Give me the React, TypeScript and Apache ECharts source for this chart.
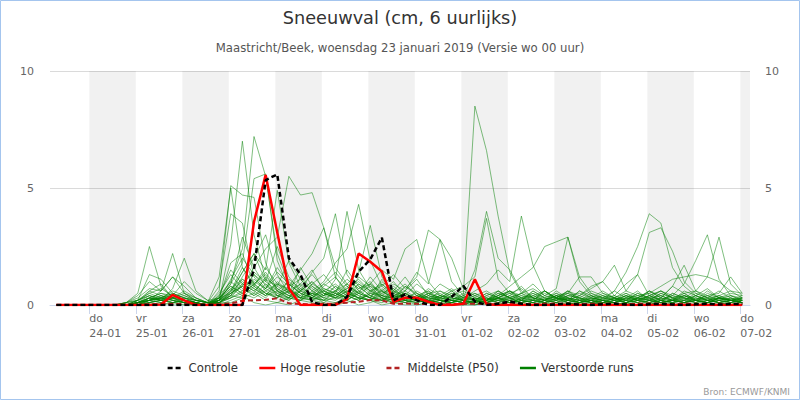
import React, { useEffect, useRef } from "react";
import * as echarts from "echarts";

// Local time (CET) hours since Wed 23-01-2019 00:00, one point every 6 hours
const hours = [
  7, 13, 19, 25, 31, 37, 43, 49, 55, 61, 67, 73,
  79, 85, 91, 97, 103, 109, 115, 121, 127, 133, 139, 145,
  151, 157, 163, 169, 175, 181, 187, 193, 199, 205, 211, 217,
  223, 229, 235, 241, 247, 253, 259, 265, 271, 277, 283, 289,
  295, 301, 307, 313, 319, 325, 331, 337, 343, 349, 355, 361,
];

const tickHours = [24, 48, 72, 96, 120, 144, 168, 192, 216, 240, 264, 288, 312, 336, 360];
const tickDays = ["do", "vr", "za", "zo", "ma", "di", "wo", "do", "vr", "za", "zo", "ma", "di", "wo", "do"];
const tickDates = ["24-01", "25-01", "26-01", "27-01", "28-01", "29-01", "30-01", "31-01", "01-02", "02-02", "03-02", "04-02", "05-02", "06-02", "07-02"];

const bandStart = [24, 72, 120, 168, 216, 264, 312, 360];
const bandEnd = [48, 96, 144, 192, 240, 288, 336, 365];

const controle = [
  0, 0, 0, 0, 0, 0, 0, 0, 0, 0, 0, 0,
  0, 0, 0, 0, 0, 1.53, 5.34, 5.58, 2.0, 1.3, 0.12, 0,
  0, 0.35, 1.42, 1.95, 2.88, 0.2, 0.45, 0.2, 0, 0, 0.35, 0.82,
  0.15, 0, 0.05, 0.15, 0.05, 0, 0, 0.03, 0.05, 0.02, 0, 0.03,
  0.05, 0.02, 0, 0.03, 0.05, 0.02, 0, 0.03, 0.05, 0.02, 0.04, 0.05,
];

const hogeResolutie = [
  0, 0, 0, 0, 0, 0, 0, 0, 0, 0.02, 0.43, 0.2,
  0, 0, 0, 0, 0, 3.56, 5.56, 3.1, 0.71, 0, 0, 0,
  0, 0.25, 2.2, 1.85, 1.43, 0.14, 0.31, 0.31, 0.14, 0, 0, 0.05,
  1.1, 0.03, 0, 0, 0, 0, 0, 0, 0, 0, 0, 0,
  0, 0, 0, 0, 0, 0, 0, 0, 0, 0, 0, 0,
];

const middelste = [
  0, 0, 0, 0, 0, 0, 0, 0, 0.03, 0.04, 0.05, 0.04,
  0.02, 0.01, 0.02, 0.07, 0.18, 0.2, 0.22, 0.29, 0.07, 0.04, 0.03, 0.05,
  0.06, 0.1, 0.14, 0.21, 0.2, 0.05, 0.06, 0.05, 0.04, 0.05, 0.04, 0.05,
  0.05, 0.06, 0.05, 0.04, 0.05, 0.04, 0.05, 0.06, 0.05, 0.04, 0.05, 0.05,
  0.05, 0.04, 0.05, 0.06, 0.05, 0.04, 0.05, 0.05, 0.04, 0.05, 0.04, 0.05,
];

const run01 = [
  0, 0, 0, 0, 0, 0, 0.1, 0.5, 2.5, 0.8, 0.3, 0.2,
  0.1, 0, 0.2, 2.6, 7.0, 3.0, 1.1, 0.4, 0.2, 0.6, 1.0, 0.5,
  0.3, 0.8, 0.4, 0.2, 0.1, 0.3, 0.5, 0.2, 0.1, 0, 0.2, 0.1,
  0.1, 0.3, 0.2, 0.1, 0, 0, 0.2, 0.4, 0.1, 0, 0.1, 0.2,
  0.3, 0.1, 0, 0.2, 0.4, 0.2, 0.1, 0, 0.1, 0.3, 0.2, 0.1,
];
const run02 = [
  0, 0, 0, 0, 0, 0, 0, 0.2, 0.4, 0.3, 0.6, 0.4,
  0.2, 0.1, 0.3, 1.0, 2.4, 7.2, 5.5, 2.2, 0.9, 0.5, 0.3, 0.8,
  1.2, 0.6, 0.3, 0.9, 0.4, 0.2, 0.1, 0.3, 0.6, 0.2, 0.1, 0,
  0, 0.2, 0.5, 0.3, 0.1, 0.2, 0.6, 0.3, 0.1, 0, 0, 0.2,
  0.1, 0.4, 0.2, 0.1, 0, 0.3, 0.5, 0.2, 0.1, 0, 0.2, 0.3,
];
const run03 = [
  0, 0, 0, 0, 0, 0, 0, 0.1, 0.3, 0.5, 0.4, 0.2,
  0.1, 0, 0.6, 5.1, 4.7, 4.6, 1.8, 0.6, 0.3, 0.2, 0.5, 0.9,
  0.6, 0.3, 1.2, 0.8, 0.3, 0.1, 0.2, 0.4, 0.2, 0.1, 0, 0,
  0.2, 0.1, 0.3, 0.6, 0.2, 0.1, 0, 0.3, 0.2, 0.1, 0.4, 0.2,
  0.1, 0, 0.2, 0.3, 0.1, 0.2, 0.6, 0.4, 0.2, 0.1, 0, 0.2,
];
const run04 = [
  0, 0, 0, 0, 0, 0, 0, 0, 0.2, 0.6, 1.2, 0.5,
  0.2, 0.1, 1.2, 5.0, 1.6, 0.8, 0.4, 1.0, 0.6, 0.3, 0.2, 0.1,
  0.4, 0.9, 0.5, 0.3, 1.1, 0.6, 0.2, 0.1, 0.3, 0.5, 0.2, 0.1,
  0, 0.1, 0.2, 0.4, 0.8, 0.3, 0.1, 0.2, 0.5, 0.3, 0.1, 0,
  0.2, 0.5, 0.3, 0.1, 0.2, 0.4, 0.2, 0.1, 0.3, 0.6, 0.3, 0.1,
];
const run05 = [
  0, 0, 0, 0, 0, 0, 0, 0.1, 0.2, 0.3, 0.2, 0.1,
  0.1, 0, 0.2, 0.9, 1.8, 5.4, 5.6, 1.9, 0.7, 0.3, 0.2, 0.4,
  0.8, 0.5, 0.3, 0.2, 0.6, 1.0, 0.4, 0.2, 0.1, 0.3, 0.2, 0.1,
  0.1, 0.4, 0.2, 0.1, 0.3, 0.2, 0.1, 0, 0.2, 0.6, 0.3, 0.1,
  0, 0.1, 0.3, 0.5, 0.2, 0.1, 0.2, 0.4, 0.7, 0.3, 0.1, 0.2,
];
const run06 = [
  0, 0, 0, 0, 0, 0, 0.1, 0.2, 0.6, 0.4, 0.3, 0.2,
  0.1, 0, 0.1, 0.6, 1.4, 2.2, 1.5, 4.9, 1.8, 0.8, 0.4, 0.2,
  0.1, 0.3, 0.8, 0.4, 0.2, 0.5, 0.9, 0.4, 0.2, 0.1, 0.3, 0.2,
  0.1, 0.2, 0.6, 0.3, 0.2, 0.1, 0.3, 0.5, 0.2, 0.1, 0, 0.1,
  0.3, 0.2, 0.1, 0.4, 0.6, 0.3, 0.1, 0.2, 0.1, 0.3, 0.4, 0.2,
];
const run07 = [
  0, 0, 0, 0, 0, 0, 0, 0.1, 0.3, 0.2, 0.5, 0.3,
  0.1, 0, 0.3, 0.5, 0.8, 1.6, 2.4, 2.9, 5.5, 4.7, 4.8, 3.3,
  1.2, 0.5, 0.3, 0.2, 0.4, 0.3, 0.1, 0.2, 0.5, 0.2, 0.1, 0,
  0.2, 0.1, 0.3, 0.2, 0.1, 0.4, 0.2, 0.1, 0.3, 0.2, 0.1, 0.3,
  0.2, 0.3, 0.1, 0.2, 0.3, 0.8, 0.5, 0.2, 0.1, 0.2, 0.3, 0.1,
];
const run08 = [
  0, 0, 0, 0, 0, 0, 0, 0.2, 1.3, 1.1, 0.5, 0.3,
  0.2, 0.1, 0.8, 3.9, 3.5, 1.2, 0.6, 0.3, 1.1, 0.7, 0.3, 0.2,
  0.5, 1.5, 0.8, 0.4, 0.2, 0.1, 0.6, 1.1, 0.4, 0.2, 0.1, 0.3,
  0.5, 0.2, 0.1, 0.3, 0.1, 0, 0.2, 0.1, 0.4, 0.3, 0.1, 0.2,
  0.4, 0.2, 0.1, 0, 0.2, 0.4, 0.3, 0.1, 0.2, 0.1, 0.3, 0.2,
];
const run09 = [
  0, 0, 0, 0, 0, 0, 0.1, 0.3, 0.7, 0.6, 2.2, 0.5,
  0.2, 0.1, 0.1, 0.4, 1.2, 2.0, 3.0, 1.3, 0.5, 0.9, 1.5, 0.6,
  0.3, 0.2, 0.5, 1.2, 0.6, 0.3, 0.2, 0.1, 0.2, 0.6, 0.4, 0.2,
  0.1, 0.3, 0.1, 0.2, 0.5, 0.2, 0.1, 0.2, 0.3, 0.1, 0.2, 0.4,
  0.2, 0.1, 0.3, 0.2, 0.1, 0.5, 0.3, 0.2, 0.4, 0.2, 0.1, 0.3,
];
const run10 = [
  0, 0, 0, 0, 0, 0, 0, 0.1, 0.4, 0.2, 0.7, 2.0,
  0.6, 0.2, 0.1, 0.3, 0.9, 1.4, 1.0, 2.5, 1.2, 0.6, 1.4, 2.0,
  3.9, 1.3, 0.6, 0.3, 0.2, 0.4, 0.3, 0.2, 0.1, 0.2, 0.1, 0.4,
  0.2, 0.1, 0.4, 0.6, 0.3, 0.1, 0.2, 0.4, 0.2, 0.1, 0.3, 0.2,
  0.1, 0.3, 0.6, 0.2, 0.1, 0.2, 0.4, 0.2, 0.1, 0.3, 0.2, 0.1,
];
const run11 = [
  0, 0, 0, 0, 0, 0, 0, 0.1, 0.2, 0.1, 0.3, 0.6,
  0.3, 0.1, 0.2, 0.7, 1.1, 0.8, 1.6, 0.9, 0.5, 1.6, 0.8, 0.4,
  1.1, 4.0, 1.5, 0.7, 0.3, 0.2, 0.1, 0.3, 0.2, 0.1, 0.4, 0.2,
  0.1, 0.2, 0.3, 0.1, 0.2, 0.6, 0.3, 0.1, 0.2, 0.1, 0.2, 0.5,
  0.3, 0.1, 0.2, 0.4, 0.2, 0.1, 0.2, 0.1, 0.5, 0.3, 0.2, 0.1,
];
const run12 = [
  0, 0, 0, 0, 0, 0, 0, 0, 0.1, 0.3, 0.2, 0.1,
  0.1, 0, 0.4, 1.5, 0.9, 0.6, 1.1, 0.8, 1.9, 1.1, 0.6, 1.0,
  1.8, 2.4, 4.3, 1.9, 0.8, 0.4, 0.2, 0.1, 0.4, 0.2, 0.1, 0.2,
  0.3, 0.1, 0.2, 0.3, 0.1, 0.2, 0.1, 0.3, 0.6, 0.2, 0.1, 0.1,
  0.2, 0.4, 0.2, 0.1, 0.3, 0.2, 0.1, 0.4, 0.2, 0.1, 0.2, 0.3,
];
const run13 = [
  0, 0, 0, 0, 0, 0, 0.1, 0.2, 0.5, 0.3, 0.2, 0.1,
  0, 0.1, 0.2, 1.1, 2.0, 1.3, 0.7, 1.2, 0.8, 1.5, 2.2, 3.3,
  1.6, 0.9, 1.4, 3.4, 1.2, 0.5, 0.3, 0.2, 0.1, 0.3, 0.5, 0.2,
  0.1, 0.2, 0.4, 0.2, 0.1, 0.3, 0.2, 0.6, 0.3, 0.1, 0.2, 0.1,
  0.1, 0.2, 0.5, 0.3, 0.1, 0.2, 0.3, 0.1, 0.2, 0.4, 0.2, 0.1,
];
const run14 = [
  0, 0, 0, 0, 0, 0, 0, 0.1, 0.2, 0.4, 0.2, 0.1,
  0, 0, 0.1, 0.5, 1.4, 2.2, 1.0, 0.6, 0.3, 1.2, 0.7, 0.4,
  0.6, 1.1, 0.7, 0.9, 1.5, 1.1, 2.4, 2.8, 1.0, 0.4, 0.2, 0.1,
  0.2, 0.1, 0.3, 0.5, 0.2, 0.1, 0.4, 0.2, 0.1, 0.3, 0.2, 0.1,
  0.2, 0.1, 0.3, 0.2, 0.5, 0.3, 0.1, 0.2, 0.3, 0.1, 0.2, 0.2,
];
const run15 = [
  0, 0, 0, 0, 0, 0, 0, 0, 0.1, 0.2, 0.1, 0.2,
  0.1, 0, 0.3, 0.8, 0.5, 1.1, 0.7, 1.4, 0.9, 0.5, 0.3, 0.6,
  0.4, 0.7, 1.0, 0.6, 0.8, 1.3, 0.7, 1.2, 3.2, 2.8, 1.0, 0.4,
  0.2, 0.5, 0.3, 0.1, 0.2, 0.4, 0.2, 0.1, 0.3, 0.2, 0.4, 0.1,
  0.1, 0.3, 0.2, 0.1, 0.2, 0.1, 0.4, 0.2, 0.1, 0.2, 0.3, 0.2,
];
const run16 = [
  0, 0, 0, 0, 0, 0, 0, 0.1, 0.3, 0.2, 0.1, 0.1,
  0, 0, 0.2, 0.6, 1.0, 0.7, 0.4, 0.9, 0.6, 0.3, 0.5, 0.2,
  0.3, 0.6, 0.3, 0.2, 0.5, 0.8, 0.4, 0.3, 0.2, 0.1, 0.2, 0.4,
  8.5, 6.6, 3.8, 1.4, 0.5, 0.3, 0.2, 0.4, 0.2, 0.1, 0.3, 0.2,
  0.1, 0.2, 0.4, 0.3, 0.1, 0.2, 0.1, 0.3, 0.2, 0.1, 0.2, 0.1,
];
const run17 = [
  0, 0, 0, 0, 0, 0, 0, 0, 0.2, 0.3, 0.4, 0.2,
  0.1, 0, 0.5, 1.3, 0.7, 0.4, 0.9, 0.5, 0.3, 0.8, 1.3, 0.7,
  0.5, 0.2, 0.6, 0.3, 0.9, 0.5, 0.2, 0.6, 0.3, 0.2, 0.1, 0.3,
  1.5, 4.0, 2.0, 1.5, 0.6, 0.3, 0.2, 0.5, 0.3, 0.1, 0.2, 0.4,
  0.3, 0.1, 0.2, 0.6, 0.3, 0.2, 0.1, 0.3, 0.2, 0.4, 0.2, 0.1,
];
const run18 = [
  0, 0, 0, 0, 0, 0, 0, 0.2, 0.4, 0.2, 0.1, 0.3,
  0.2, 0.1, 0.2, 0.9, 2.9, 1.6, 0.8, 0.5, 0.7, 0.4, 0.9, 1.3,
  0.7, 0.4, 0.2, 0.5, 1.0, 0.6, 0.3, 0.2, 0.4, 0.9, 0.6, 0.8,
  1.2, 3.7, 1.1, 0.5, 0.3, 0.2, 0.6, 0.3, 0.1, 0.2, 0.1, 0.3,
  0.2, 0.4, 0.2, 0.1, 0.3, 0.1, 0.2, 0.5, 0.3, 0.1, 0.2, 0.3,
];
const run19 = [
  0, 0, 0, 0, 0, 0, 0, 0.1, 0.6, 0.9, 0.3, 0.2,
  0.1, 0, 0.4, 1.0, 0.6, 1.3, 0.9, 0.4, 0.2, 0.6, 0.4, 0.9,
  1.4, 0.8, 0.5, 0.3, 0.2, 0.6, 1.2, 0.5, 0.3, 0.2, 0.5, 0.3,
  0.6, 0.9, 1.5, 1.0, 3.8, 1.7, 0.6, 0.3, 0.2, 0.4, 0.2, 0.1,
  0.3, 0.2, 0.1, 0.3, 0.4, 0.2, 0.1, 0.2, 0.4, 0.2, 0.1, 0.2,
];
const run20 = [
  0, 0, 0, 0, 0, 0, 0, 0, 0.1, 0.2, 0.3, 0.5,
  0.3, 0.1, 0.1, 0.4, 0.8, 0.5, 1.2, 0.7, 0.4, 0.2, 0.6, 0.3,
  0.2, 0.5, 0.9, 0.6, 0.3, 0.2, 0.5, 0.3, 0.7, 0.4, 0.2, 0.1,
  0.3, 0.2, 0.4, 0.8, 1.2, 1.6, 2.5, 2.7, 2.9, 1.2, 0.5, 0.3,
  0.2, 0.1, 0.3, 0.2, 0.1, 0.2, 0.4, 0.3, 0.1, 0.2, 0.1, 0.2,
];
const run21 = [
  0, 0, 0, 0, 0, 0, 0, 0.1, 0.3, 0.2, 0.4, 0.2,
  0.1, 0, 0.2, 0.6, 1.6, 0.9, 0.5, 0.3, 0.8, 1.1, 0.6, 0.3,
  0.5, 0.3, 0.7, 1.0, 0.4, 0.9, 0.6, 1.4, 0.9, 2.8, 2.0, 0.7,
  0.4, 0.2, 0.6, 0.3, 0.5, 0.9, 0.4, 0.7, 2.9, 1.0, 0.4, 0.2,
  0.1, 0.3, 0.2, 0.4, 0.2, 0.1, 0.3, 0.2, 0.1, 0.3, 0.2, 0.1,
];
const run22 = [
  0, 0, 0, 0, 0, 0, 0, 0, 0.2, 0.1, 0.3, 0.1,
  0, 0, 0.3, 0.7, 0.4, 0.9, 0.5, 0.3, 0.6, 0.4, 0.2, 0.5,
  0.3, 0.6, 0.4, 0.2, 0.7, 0.3, 0.5, 0.2, 0.1, 0.4, 0.3, 0.2,
  0.5, 0.3, 0.2, 0.4, 0.2, 0.6, 0.3, 0.2, 0.4, 0.5, 0.3, 0.2,
  0.6, 1.4, 2.5, 3.9, 3.5, 1.6, 0.8, 0.4, 0.2, 0.3, 0.2, 0.1,
];
const run23 = [
  0, 0, 0, 0, 0, 0, 0, 0.1, 0.2, 0.4, 0.2, 0.3,
  0.2, 0.1, 0.1, 0.3, 0.6, 1.0, 0.7, 0.4, 0.3, 0.7, 0.5, 0.3,
  0.8, 0.4, 0.2, 0.5, 0.3, 0.6, 0.4, 0.9, 0.5, 0.3, 0.6, 0.2,
  0.3, 0.2, 0.5, 0.3, 0.1, 0.2, 0.5, 0.3, 0.2, 0.6, 0.4, 0.3,
  0.4, 0.9, 1.3, 3.1, 3.3, 2.3, 1.0, 0.5, 0.3, 0.2, 0.4, 0.2,
];
const run24 = [
  0, 0, 0, 0, 0, 0, 0, 0, 0.1, 0.2, 0.1, 0.2,
  0.1, 0, 0.2, 0.5, 0.9, 0.6, 0.3, 0.8, 0.5, 0.3, 0.9, 0.6,
  0.4, 0.2, 0.5, 0.8, 0.6, 0.3, 0.2, 0.4, 0.6, 0.3, 0.2, 0.5,
  0.2, 0.1, 0.3, 0.6, 0.4, 0.2, 0.1, 0.3, 0.5, 0.2, 0.3, 0.6,
  0.3, 0.2, 0.5, 0.3, 0.6, 0.4, 0.9, 1.9, 3.0, 1.1, 0.4, 0.3,
];
const run25 = [
  0, 0, 0, 0, 0, 0, 0, 0.1, 0.2, 0.3, 0.5, 0.3,
  0.1, 0, 0.1, 0.4, 1.1, 0.7, 0.4, 0.6, 1.0, 0.6, 0.3, 0.2,
  0.6, 0.3, 0.9, 0.5, 0.4, 0.7, 0.3, 0.2, 0.5, 0.6, 0.3, 0.2,
  0.4, 0.6, 0.3, 0.2, 0.4, 0.3, 0.6, 0.2, 0.4, 0.3, 0.6, 0.4,
  0.2, 0.4, 0.3, 0.6, 0.4, 0.2, 0.5, 0.6, 1.2, 2.9, 0.9, 0.4,
];
const run26 = [
  0, 0, 0, 0, 0, 0, 0, 0, 0.3, 0.5, 0.3, 0.1,
  0.1, 0, 0.2, 0.3, 0.5, 0.9, 1.3, 0.6, 0.4, 0.3, 0.8, 0.5,
  0.3, 0.4, 0.2, 0.6, 0.9, 0.4, 0.3, 0.5, 0.2, 0.4, 0.7, 0.3,
  0.2, 0.4, 0.6, 0.3, 0.5, 0.7, 0.4, 0.3, 0.6, 0.4, 0.8, 1.0,
  1.7, 0.6, 0.4, 0.5, 0.8, 1.1, 1.2, 1.3, 1.2, 1.0, 0.6, 0.3,
];
const run27 = [
  0, 0, 0, 0, 0, 0, 0, 0.1, 0.2, 0.3, 0.1, 0.2,
  0.1, 0, 0.2, 0.4, 0.3, 0.8, 0.5, 0.4, 0.6, 0.9, 0.4, 0.6,
  0.9, 0.5, 0.3, 0.4, 0.6, 0.2, 0.8, 0.4, 0.3, 0.2, 0.4, 0.6,
  0.3, 0.2, 0.4, 0.6, 0.3, 0.5, 0.2, 0.4, 0.5, 1.2, 1.2, 0.5,
  0.3, 0.6, 1.3, 0.4, 0.2, 0.5, 0.3, 0.6, 0.4, 0.5, 1.2, 0.5,
];
const run28 = [
  0, 0, 0, 0, 0, 0, 0, 0.1, 0.3, 0.2, 0.3, 0.4,
  0.2, 0.1, 0.3, 0.8, 0.5, 0.3, 0.6, 0.9, 0.7, 0.3, 0.5, 0.4,
  0.6, 0.9, 0.5, 0.3, 0.2, 0.4, 0.6, 0.3, 0.5, 0.3, 0.2, 0.1,
  0.2, 0.5, 0.3, 0.1, 0.3, 0.4, 0.6, 0.3, 0.2, 0.4, 0.7, 1.0,
  0.4, 0.2, 0.3, 0.6, 0.3, 0.8, 1.7, 0.6, 0.3, 0.4, 0.6, 0.5,
];
const run29 = [
  0, 0, 0, 0, 0, 0, 0.1, 0.4, 1.0, 0.6, 1.2, 0.8,
  0.3, 0.1, 0.1, 0.5, 0.8, 0.4, 0.7, 1.6, 0.9, 0.5, 0.3, 0.7,
  0.5, 0.3, 0.6, 0.9, 0.5, 0.7, 0.3, 0.2, 0.4, 0.3, 0.6, 0.3,
  0.2, 0.3, 0.1, 0.4, 0.2, 0.5, 0.3, 0.2, 0.6, 0.3, 0.2, 0.1,
  0.3, 0.5, 0.2, 0.4, 0.6, 0.3, 0.2, 0.4, 0.2, 0.3, 0.5, 0.4,
];
const run30 = [
  0, 0, 0, 0, 0, 0, 0, 0.2, 0.5, 0.7, 0.4, 1.0,
  0.5, 0.2, 0.3, 1.8, 2.2, 0.9, 1.4, 0.7, 0.4, 0.6, 1.0, 0.5,
  0.4, 0.7, 1.1, 0.6, 0.4, 0.3, 0.8, 0.5, 0.2, 0.4, 0.3, 0.2,
  0.4, 0.2, 0.3, 0.5, 0.7, 0.3, 0.1, 0.4, 0.3, 0.2, 0.5, 0.3,
  0.6, 0.3, 0.4, 0.2, 0.5, 0.3, 0.4, 0.2, 0.6, 0.3, 0.2, 0.4,
];
const run31 = [
  0, 0, 0, 0, 0, 0, 0, 0, 0, 0.1, 0, 0,
  0, 0, 0, 0.2, 0.4, 0.1, 0, 0.1, 0.3, 0.2, 0.1, 0,
  0.1, 0.2, 0, 0.1, 0.3, 0.1, 0, 0, 0.1, 0.2, 0, 0,
  0, 0.1, 0, 0.2, 0, 0.1, 0, 0, 0.1, 0, 0.2, 0,
  0, 0.1, 0, 0, 0.2, 0, 0.1, 0, 0, 0.1, 0, 0.1,
];
const run32 = [
  0, 0, 0, 0, 0, 0, 0, 0.1, 0.1, 0, 0.1, 0,
  0, 0, 0.1, 0.1, 0.3, 0.5, 0.2, 0.1, 0, 0.2, 0.4, 0.1,
  0, 0.1, 0.3, 0.2, 0, 0.1, 0.2, 0, 0.1, 0, 0.1, 0.2,
  0.1, 0, 0.1, 0, 0.2, 0.1, 0, 0.1, 0, 0.2, 0.1, 0,
  0.1, 0, 0, 0.2, 0.1, 0, 0.1, 0.2, 0, 0, 0.1, 0,
];

const perturbedRuns = [
  run01, run02, run03, run04, run05, run06, run07, run08, run09, run10, run11,
  run12, run13, run14, run15, run16, run17, run18, run19, run20, run21, run22,
  run23, run24, run25, run26, run27, run28, run29, run30, run31, run32,
];

const FONT = "DejaVu Sans";

export default function App() {
  const ref = useRef<HTMLDivElement>(null);

  useEffect(() => {
    if (!ref.current) return;
    const chart = echarts.init(ref.current, null, { renderer: "svg" });
    const toPairs = (vals: number[]) => vals.map((v, i) => [hours[i], v]);

    const greenSeries = perturbedRuns.map((run) => ({
      name: "Verstoorde runs",
      type: "line",
      data: toPairs(run),
      symbol: "none",
      silent: true,
      z: 2,
      lineStyle: { color: "#008000", width: 1, opacity: 0.5 },
      itemStyle: { color: "#008000" },
    }));

    const option: any = {
      animation: false,
      backgroundColor: "#ffffff",
      textStyle: { fontFamily: FONT },
      title: [
        {
          text: "Sneeuwval (cm, 6 uurlijks)",
          left: "center",
          top: 9,
          padding: 0,
          textStyle: { fontSize: 17.7, fontWeight: "normal", color: "#333333", fontFamily: FONT },
        },
        {
          text: "Maastricht/Beek, woensdag 23 januari 2019 (Versie wo 00 uur)",
          left: "center",
          top: 42,
          padding: 0,
          textStyle: { fontSize: 11.7, fontWeight: "normal", color: "#555555", fontFamily: FONT },
        },
      ],
      legend: {
        left: "center",
        top: 357,
        itemWidth: 16,
        itemHeight: 14,
        itemGap: 20,
        itemStyle: { opacity: 0 },
        textStyle: { fontSize: 11.7, color: "#333333", fontFamily: FONT },
        data: [
          { name: "Controle", lineStyle: { width: 2.5, opacity: 1 } },
          { name: "Hoge resolutie", lineStyle: { width: 2.5, opacity: 1 } },
          { name: "Middelste (P50)", lineStyle: { width: 2.5, opacity: 1 } },
          { name: "Verstoorde runs", lineStyle: { width: 2.5, opacity: 1 } },
        ],
      },
      grid: { left: 50, right: 50, top: 71, bottom: 95, containLabel: false },
      xAxis: {
        type: "value",
        min: 3.7,
        max: 365,
        axisLine: { show: true, lineStyle: { color: "#ccd6eb", width: 1 } },
        axisTick: {
          show: true,
          customValues: tickHours,
          length: 9,
          lineStyle: { color: "#ccd6eb" },
        },
        axisLabel: {
          customValues: tickHours,
          align: "left",
          margin: 6,
          lineHeight: 15,
          fontSize: 11,
          color: "#666666",
          fontFamily: FONT,
          formatter: (v: number) => {
            const i = tickHours.indexOf(v);
            return i >= 0 ? `${tickDays[i]}\n${tickDates[i]}` : "";
          },
        },
        splitLine: { show: false },
      },
      yAxis: [
        {
          type: "value",
          min: 0,
          max: 10,
          interval: 5,
          position: "left",
          axisLine: { show: false },
          axisTick: { show: false },
          axisLabel: { margin: 16, fontSize: 11, color: "#666666", fontFamily: FONT },
          splitLine: { show: true, lineStyle: { color: "#dadada", width: 1 } },
        },
        {
          type: "value",
          min: 0,
          max: 10,
          interval: 5,
          position: "right",
          axisLine: { show: false },
          axisTick: { show: false },
          axisLabel: { margin: 15, fontSize: 11, color: "#666666", fontFamily: FONT },
          splitLine: { show: false },
        },
      ],
      series: [
        ...greenSeries,
        {
          name: "Middelste (P50)",
          type: "line",
          data: toPairs(middelste),
          symbol: "none",
          silent: true,
          z: 3,
          lineStyle: { color: "#b22222", width: 2, type: [5, 3] },
          itemStyle: { color: "#b22222" },
        },
        {
          name: "Hoge resolutie",
          type: "line",
          data: toPairs(hogeResolutie),
          symbol: "none",
          silent: true,
          z: 4,
          lineStyle: { color: "#ff0000", width: 2.5 },
          itemStyle: { color: "#ff0000" },
        },
        {
          name: "Controle",
          type: "line",
          data: toPairs(controle),
          symbol: "none",
          silent: true,
          z: 5,
          lineStyle: { color: "#000000", width: 2.5, type: [5, 3] },
          itemStyle: { color: "#000000" },
          markArea: {
            silent: true,
            z: 1,
            itemStyle: { color: "rgba(0,0,0,0.055)" },
            data: bandStart.map((s, i) => [{ xAxis: s }, { xAxis: bandEnd[i] }]),
          },
        },
      ],
      graphic: [
        {
          type: "rect",
          silent: true,
          shape: { x: 0.5, y: 0.5, width: 799, height: 399 },
          style: { fill: "none", stroke: "#a4c5ee", lineWidth: 1 },
          z: 100,
        },
        {
          type: "text",
          silent: true,
          x: 790,
          y: 392,
          style: {
            text: "Bron: ECMWF/KNMI",
            fontSize: 9,
            fontFamily: FONT,
            fill: "#999999",
            textAlign: "right",
            textVerticalAlign: "middle",
          },
        },
      ],
    };

    chart.setOption(option);
    return () => chart.dispose();
  }, []);

  return (
    <div
      ref={ref}
      style={{ position: "fixed", left: 0, top: 0, width: 800, height: 400, background: "#ffffff" }}
    />
  );
}
